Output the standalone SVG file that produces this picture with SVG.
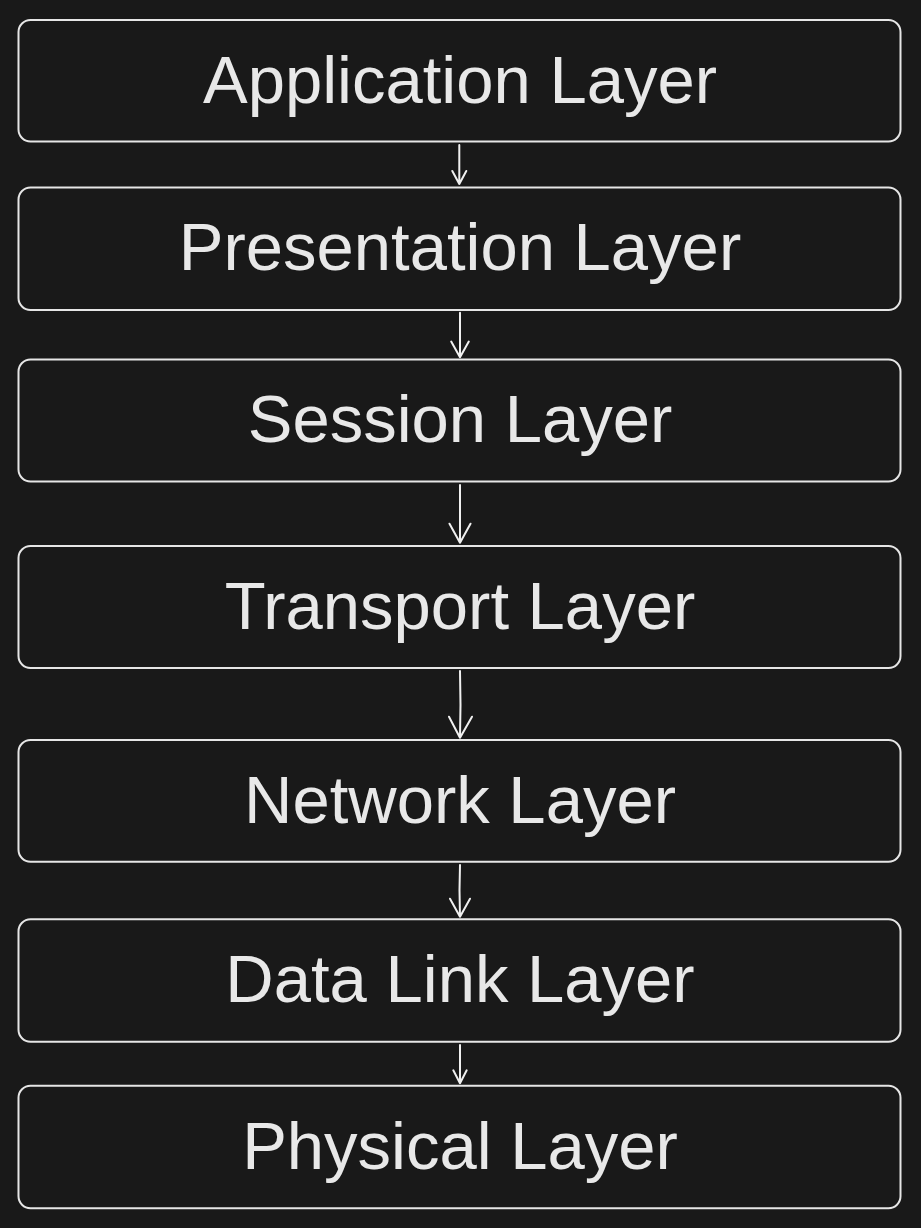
<svg xmlns="http://www.w3.org/2000/svg" width="921" height="1228" viewBox="0 0 921 1228">
<style>
.box{fill:#191919;stroke:#e6e6e6;stroke-width:2}
.lbl{font-family:"Liberation Sans",Arial,sans-serif;font-size:67px;fill:#e8e8e8;text-anchor:middle}
.edge{fill:none;stroke:#f0f0f0;stroke-width:2;stroke-linecap:round;stroke-linejoin:round}
</style>
<rect width="921" height="1228" fill="#191919"/>
<g id="application"><rect class="box" x="18.5" y="20" width="882" height="121.5" rx="12"/><text class="lbl" x="460" y="102.5">Application Layer</text></g>
<g id="presentation"><rect class="box" x="18.5" y="187.5" width="882" height="122.5" rx="12"/><text class="lbl" x="460" y="269.5">Presentation Layer</text></g>
<g id="session"><rect class="box" x="18.5" y="359.5" width="882" height="122" rx="12"/><text class="lbl" x="460" y="442">Session Layer</text></g>
<g id="transport"><rect class="box" x="18.5" y="546" width="882" height="122" rx="12"/><text class="lbl" x="460" y="628.5">Transport Layer</text></g>
<g id="network"><rect class="box" x="18.5" y="740" width="882" height="121.7" rx="12"/><text class="lbl" x="460" y="822.5">Network Layer</text></g>
<g id="datalink"><rect class="box" x="18.5" y="919.3" width="882" height="122.4" rx="12"/><text class="lbl" x="460" y="1002">Data Link Layer</text></g>
<g id="physical"><rect class="box" x="18.5" y="1085.7" width="882" height="122.6" rx="12"/><text class="lbl" x="460" y="1168.5">Physical Layer</text></g>
<g id="connectors">
<path class="edge" d="M459.3 145 L459.3 184 M452.3 171 L459.3 184 L466.3 171"/>
<path class="edge" d="M460 312.7 L460 357.3 M451.2 341.6 L460 357.3 L468.8 341.6"/>
<path class="edge" d="M460 485 L460 542.7 M449.5 523.7 L460 542.7 L470.5 523.7"/>
<path class="edge" d="M460 671 Q461 705 460 737.7 M449 716.7 L460 737.7 L472 716.7"/>
<path class="edge" d="M460 865 Q459 890 460 916.7 M450 898.7 L460 916.7 L470 898.7"/>
<path class="edge" d="M460 1045 L460 1083.3 M453.3 1070.3 L460 1083.3 L466.7 1070.3"/>
</g>
</svg>
